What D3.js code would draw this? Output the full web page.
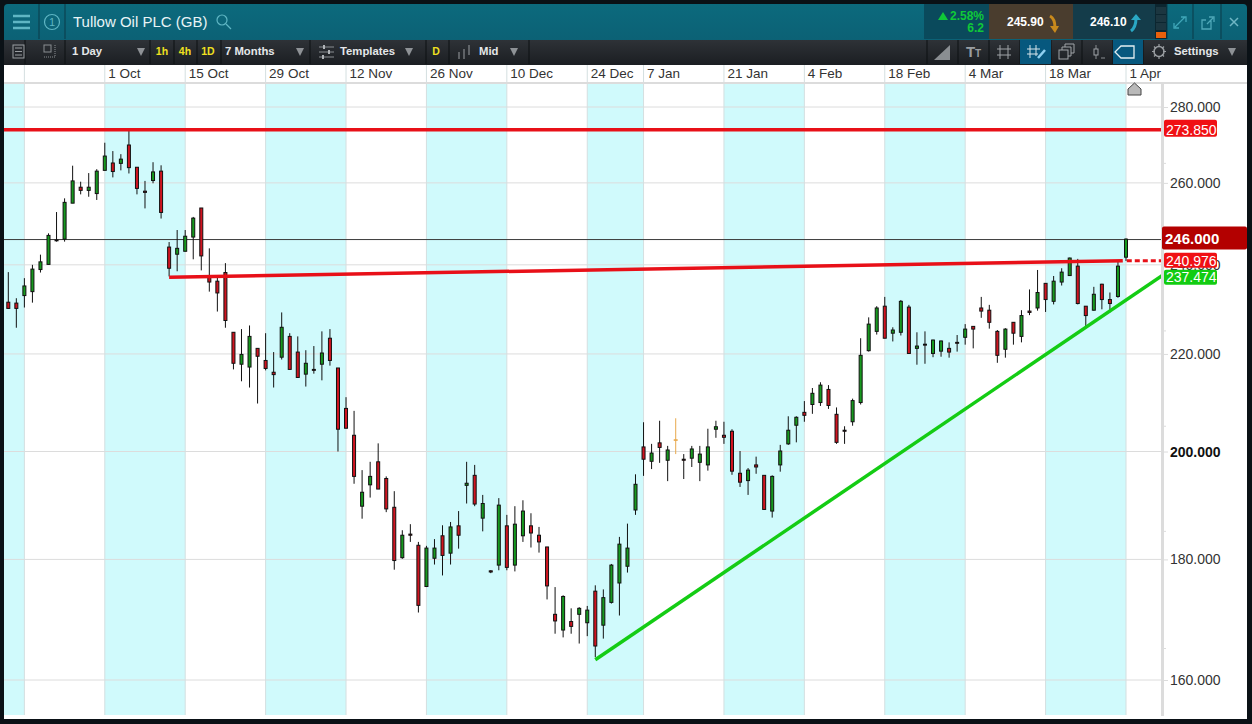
<!DOCTYPE html>
<html>
<head>
<meta charset="utf-8">
<title>Tullow Oil PLC (GB)</title>
<script src="https://d3js.org/d3.v7.min.js"></script>
<style>
  html, body { margin: 0; padding: 0; background: #0a1116; overflow: hidden; }
  svg { display: block; font-family: "Liberation Sans", Arial, sans-serif; }
</style>
</head>
<body>
<script>
// daily candles
var opens = [
  231.4,231.2,232.9,233.8,238.9,240.1,245.9,246.1,254.9,258.9,
  258.1,257.3,263.2,265.1,265.0,269.8,264.0,257.9,260.6,263.0,
  244.2,242.5,243.2,246.6,253.7,237.3,236.2,238.2,224.7,217.8,
  217.2,221.2,218.6,216.1,219.3,223.8,220.4,215.7,216.7,217.8,
  223.4,217.0,208.6,203.2,189.6,193.6,198.0,194.8,189.4,180.3,
  184.5,182.5,175.3,180.2,184.2,181.1,186.0,193.5,195.4,187.4,
  178.0,179.0,186.0,179.0,184.2,186.0,184.3,182.2,170.6,168.0,
  169.4,170.6,169.2,174.5,168.8,172.6,175.9,178.8,188.9,200.9,
  198.1,201.7,198.3,202.3,198.5,198.7,197.9,197.4,204.4,203.2,
  204.0,195.8,194.4,197.4,195.4,188.7,197.4,201.5,205.2,207.8,
  209.4,209.8,212.5,207.4,204.2,205.9,209.8,220.7,224.9,230.5,
  224.5,224.7,230.3,221.2,222.1,220.1,220.6,221.2,222.5,223.6,
  226.0,230.1,229.6,224.9,221.0,226.9,223.8,229.4,230.1,235.7,
  231.6,236.0,237.5,239.7,230.5,229.6,235.5,232.0,232.7,241.8
];
var highs = [
  238.3,232.3,236.9,240.0,242.4,247.5,252.7,256.1,264.4,260.3,
  262.5,263.5,270.4,268.2,267.4,273.8,264.0,260.5,265.3,264.5,
  245.4,248.3,248.3,251.5,253.7,243.9,237.1,240.4,224.7,225.4,
  226.2,221.2,224.5,220.4,229.1,224.5,223.8,220.8,221.7,224.9,
  225.4,217.0,210.9,208.1,196.4,198.0,201.6,195.2,192.4,185.2,
  186.3,183.1,182.4,183.6,186.1,186.7,188.7,198.0,197.4,191.7,
  178.1,191.1,188.0,189.6,190.7,188.3,185.8,182.2,175.2,173.8,
  171.6,171.8,172.0,175.5,174.8,179.2,184.0,186.4,195.6,205.8,
  201.5,206.1,201.1,206.6,199.5,201.1,201.1,204.5,206.1,205.9,
  204.4,200.1,196.8,199.0,195.4,195.4,201.3,207.0,207.0,210.1,
  212.8,214.0,213.4,208.8,205.0,210.6,223.4,228.0,230.5,232.6,
  225.8,231.9,230.8,224.7,224.9,223.1,222.9,222.5,224.1,226.5,
  226.0,232.6,230.8,225.2,225.6,226.9,229.6,234.3,238.8,235.7,
  237.4,239.2,241.7,241.4,230.5,234.9,235.6,233.6,240.7,246.3
];
var lows = [
  230.0,225.7,230.2,231.3,238.2,240.1,245.5,245.5,254.9,257.1,
  256.5,255.7,263.2,261.4,263.2,262.4,257.1,253.6,259.9,251.1,
  237.3,238.5,243.2,241.3,238.7,233.8,229.3,225.7,216.7,214.2,
  212.9,209.6,216.5,212.9,218.8,216.7,215.0,213.1,215.8,214.4,
  217.5,200.0,204.6,193.8,187.3,191.2,192.8,188.5,178.2,180.1,
  183.1,170.9,175.2,179.1,177.2,179.1,181.9,190.1,189.6,185.0,
  177.6,178.1,178.1,177.9,183.1,182.1,181.2,173.1,167.4,166.8,
  167.4,165.8,167.0,163.6,166.6,172.4,170.4,177.7,188.0,195.3,
  196.6,197.8,194.3,199.5,194.7,197.0,194.3,196.3,202.7,201.5,
  195.5,193.2,191.7,195.7,188.9,187.5,196.1,201.3,201.8,205.9,
  207.5,209.1,208.5,201.5,201.5,205.1,209.4,220.5,224.2,223.4,
  222.7,224.0,220.1,217.7,217.9,219.3,219.4,219.2,220.5,222.0,
  221.2,227.9,225.5,218.1,219.2,222.0,222.5,228.5,229.5,229.2,
  230.9,235.2,237.4,230.9,225.9,229.5,229.8,229.1,232.4,240.9
];
var closes = [
  230.0,230.0,235.1,239.0,240.7,247.0,245.7,255.1,260.5,258.1,
  258.9,263.0,266.9,262.9,266.1,263.9,258.6,257.6,262.8,252.6,
  239.2,243.9,246.8,251.2,242.1,236.0,233.5,227.3,218.0,219.9,
  223.8,219.5,216.9,215.6,225.8,216.7,215.0,218.0,216.5,220.2,
  218.6,204.4,204.6,195.2,192.2,195.2,192.8,189.1,179.8,184.3,
  184.3,172.1,182.0,182.0,180.7,185.8,184.3,193.9,190.0,190.1,
  177.8,189.8,178.6,186.3,188.7,184.7,183.1,175.4,169.5,173.6,
  168.6,171.6,171.3,165.4,173.4,179.0,182.7,182.0,193.7,198.5,
  199.7,200.8,200.3,202.2,198.3,200.5,199.5,200.9,204.9,202.8,
  196.2,194.1,196.4,197.0,189.0,195.2,200.1,204.2,206.8,207.2,
  211.7,213.4,209.2,201.8,204.0,210.2,219.7,226.5,230.1,223.4,
  225.2,231.6,220.1,221.7,221.9,223.0,222.8,220.4,222.3,225.4,
  225.4,229.4,226.9,219.7,225.4,224.5,228.4,229.1,233.6,232.0,
  236.2,238.3,241.6,231.1,228.4,233.2,232.0,231.1,239.7,246.1
];
var orangeBar = 83;

var dateIndex = [2, 12, 22, 32, 42, 52, 62, 72, 79, 89, 99, 109, 119, 129, 139];
var dateLabels = ["", "1 Oct", "15 Oct", "29 Oct", "12 Nov", "26 Nov", "10 Dec", "24 Dec",
  "7 Jan", "21 Jan", "4 Feb", "18 Feb", "4 Mar", "18 Mar", "1 Apr"];
var bandFrom = [-1, 12, 32, 52, 72, 89, 109, 129];
var bandTo = [2, 22, 42, 62, 79, 99, 119, 139];
var priceTicks = [280, 260, 240, 220, 200, 180, 160];
var minorTicks = [265, 245, 225, 205, 185, 165];

var resistance = 273.85;
var lastPrice = 246;
var redTrend = { from: 20, to: 138.6, fromValue: 237.1, toValue: 240.976 };
var greenTrend = { from: 73, fromValue: 163.2, axisValue: 237.474 };

var width = 1252, height = 724;
var left = 4, right = 1162, axisEnd = 1247, top_ = 84, bandBottom = 715, bottom = 719;

var svg = d3.select("body").append("svg").attr("width", width).attr("height", height);

var x = d3.scaleLinear().domain([0, 139]).range([8.3, 1126]);
var y = d3.scaleLog().domain([160, 280]).range([680, 107]);

// ---- window frame and header ----
var defs = svg.append("defs");
var headGrad = defs.append("linearGradient").attr("id", "head")
  .attr("x1", 0).attr("x2", 0).attr("y1", 0).attr("y2", 1);
headGrad.append("stop").attr("offset", "0%").attr("stop-color", "#0c6a7d");
headGrad.append("stop").attr("offset", "100%").attr("stop-color", "#0c6074");
var barGrad = defs.append("linearGradient").attr("id", "toolbar")
  .attr("x1", 0).attr("x2", 0).attr("y1", 0).attr("y2", 1);
barGrad.append("stop").attr("offset", "0%").attr("stop-color", "#2e3237");
barGrad.append("stop").attr("offset", "100%").attr("stop-color", "#1b1e22");
defs.append("clipPath").attr("id", "plot").append("rect")
  .attr("x", left).attr("y", 65).attr("width", right - left).attr("height", bandBottom - 65);

svg.append("rect").attr("width", width).attr("height", height).attr("fill", "#0a1116");
svg.append("rect").attr("x", left).attr("y", 4).attr("width", axisEnd - left).attr("height", 40)
  .attr("rx", 4).attr("fill", "url(#head)");

function sep(g, xs, y1, y2, col) {
  xs.forEach(function(v) {
    g.append("line").attr("x1", v).attr("x2", v).attr("y1", y1).attr("y2", y2)
      .attr("stroke", col).attr("stroke-width", 1);
  });
}
function label(g, px, py, txt, size, col, weight, anchor) {
  return g.append("text").attr("x", px).attr("y", py).text(txt)
    .attr("font-size", size).attr("fill", col)
    .attr("font-weight", weight || "normal").attr("text-anchor", anchor || "start");
}
function seg(g, d, col, w) {
  return g.append("path").attr("d", d).attr("fill", "none")
    .attr("stroke", col).attr("stroke-width", w || 1);
}

var head = svg.append("g");
head.append("rect").attr("x", 924).attr("y", 4).attr("width", 65).attr("height", 35).attr("fill", "#0a4a5c");
head.append("rect").attr("x", 989).attr("y", 4).attr("width", 84).attr("height", 35).attr("fill", "#4a3d2e");
head.append("rect").attr("x", 1073).attr("y", 4).attr("width", 82).attr("height", 35).attr("fill", "#143c4a");
head.append("rect").attr("x", 1155).attr("y", 4).attr("width", 12).attr("height", 35).attr("fill", "#0c2630");
sep(head, [39, 65, 1167, 1193, 1221], 4, 39, "#0a3a48");

seg(head, "M13 16H30M13 22H30M13 28H30", "#5fb6c4", 2.5);
head.append("circle").attr("cx", 52).attr("cy", 22).attr("r", 7.5).attr("fill", "none")
  .attr("stroke", "#5fb6c4").attr("stroke-width", 1.2);
label(head, 52, 26, "1", 11, "#5fb6c4", "normal", "middle");
label(head, 73, 27, "Tullow Oil PLC (GB)", 15, "#e8f4f6");
head.append("circle").attr("cx", 222).attr("cy", 20).attr("r", 5).attr("fill", "none")
  .attr("stroke", "#5fb6c4").attr("stroke-width", 1.2);
seg(head, "M226 24L231 29", "#5fb6c4", 1.2);

head.append("path").attr("d", "M938 20L943 12L948 20Z").attr("fill", "#10c838");
label(head, 984, 20, "2.58%", 12, "#10c838", "bold", "end");
label(head, 984, 32, "6.2", 12, "#10c838", "bold", "end");
label(head, 1007, 26, "245.90", 12, "#ffffff", "bold");
seg(head, "M1050 16C1054 18 1055 22 1055 28", "#c98a1c", 3);
head.append("path").attr("d", "M1050 26L1055 33L1059 26Z").attr("fill", "#c98a1c");
label(head, 1090, 26, "246.10", 12, "#ffffff", "bold");
seg(head, "M1131 31C1135 28 1136 24 1136 18", "#2aa8c4", 3);
head.append("path").attr("d", "M1131 20L1136 14L1141 20Z").attr("fill", "#2aa8c4");
[7, 15, 23].forEach(function(v) {
  head.append("rect").attr("x", 1156).attr("y", v).attr("width", 10).attr("height", 7).attr("fill", "#1c3640");
});
head.append("rect").attr("x", 1156).attr("y", 32).attr("width", 10).attr("height", 6).attr("fill", "#e8600c");
seg(head, "M1175 27L1185 17M1181 17H1186V22M1174 23V28H1179", "#3fa6b8", 1.3);
seg(head, "M1211 20V29H1202V20H1206M1207 24L1213 18M1209 17H1214V22", "#4fa8b8", 1.3);
seg(head, "M1230 18L1238 26M1238 18L1230 26", "#6fb6c4", 1.5);

// ---- toolbar ----
var bar = svg.append("g");
bar.append("rect").attr("x", left).attr("y", 40).attr("width", axisEnd - left).attr("height", 25).attr("fill", "url(#toolbar)");
sep(bar, [25, 65, 150, 174, 197, 221, 310, 426, 449, 529, 927, 958, 989, 1020, 1051, 1082, 1113, 1143], 40, 64, "#0d1013");
bar.append("rect").attr("x", 1020).attr("y", 40).attr("width", 31).attr("height", 24).attr("fill", "#07587e");
bar.append("rect").attr("x", 1113).attr("y", 40).attr("width", 30).attr("height", 24).attr("fill", "#07587e");

bar.append("rect").attr("x", 13).attr("y", 45).attr("width", 11).attr("height", 13).attr("fill", "none").attr("stroke", "#9a9ea2");
seg(bar, "M15 48H22M15 51.5H22M15 55H22", "#9a9ea2");
bar.append("rect").attr("x", 44).attr("y", 45).attr("width", 7).attr("height", 7).attr("fill", "none").attr("stroke", "#8a8e92");
bar.append("path").attr("d", "M44 57H56M55 45V57").attr("fill", "none").attr("stroke", "#8a8e92").attr("stroke-dasharray", "1 1");

label(bar, 72, 55, "1 Day", 11.3, "#e4e7e9", "bold");
label(bar, 162, 55, "1h", 10.5, "#f0e020", "bold", "middle");
label(bar, 185, 55, "4h", 10.5, "#f0e020", "bold", "middle");
label(bar, 208, 55, "1D", 10.5, "#f0e020", "bold", "middle");
label(bar, 225, 55, "7 Months", 11.3, "#e4e7e9", "bold");
label(bar, 340, 55, "Templates", 11.3, "#e4e7e9", "bold");
label(bar, 436, 55, "D", 10.5, "#f0e020", "bold", "middle");
label(bar, 479, 55, "Mid", 11.3, "#e4e7e9", "bold");
label(bar, 1174, 55, "Settings", 11.3, "#e4e7e9", "bold");
[141, 300, 409, 514, 1232].forEach(function(v) {
  bar.append("path").attr("d", "M" + (v - 4) + " 48H" + (v + 4) + "L" + v + " 56Z").attr("fill", "#8e9296");
});
seg(bar, "M319 47H334M319 52H334M319 57H334", "#8a8e92");
seg(bar, "M324 45V49M329 50V54M323 55V59", "#b0b4b8", 2);
seg(bar, "M459 52V59M464 49V59M469 45V55", "#9a9ea2");

bar.append("path").attr("d", "M934 60L950 45V60Z").attr("fill", "#8a8e92");
label(bar, 966, 57, "T", 15, "#9a9ea2", "bold");
label(bar, 975, 57, "T", 10, "#9a9ea2", "bold");
seg(bar, "M1000 45V59M1008 45V59M997 49H1011M997 55H1011", "#a0a4a8");
seg(bar, "M1030 45V58M1036 45V56M1027 49H1040M1027 54H1038", "#d8e4ea");
seg(bar, "M1038 58L1045 50", "#8fd0f0", 2.5);
bar.append("rect").attr("x", 1059).attr("y", 50).attr("width", 9).attr("height", 9).attr("fill", "none").attr("stroke", "#a0a4a8");
seg(bar, "M1062 50V47H1071V56H1068M1065 47V44H1074V53H1071", "#a0a4a8");
seg(bar, "M1096 45V59M1101 58H1105", "#8a8e92");
bar.append("rect").attr("x", 1094).attr("y", 49).attr("width", 4).attr("height", 6).attr("fill", "#23272c").attr("stroke", "#a0a4a8");
bar.append("path").attr("d", "M1134 46H1121L1115 52L1121 58H1134Z").attr("fill", "none").attr("stroke", "#e4eef2").attr("stroke-width", 1.3);
bar.append("circle").attr("cx", 1159).attr("cy", 51.5).attr("r", 5).attr("fill", "none").attr("stroke", "#9a9ea2").attr("stroke-width", 1.5);
seg(bar, "M1159 44V47M1159 56V59M1152 51.5H1155M1163 51.5H1166M1154 46.5L1156 48.5M1162 54.5L1164 56.5M1154 56.5L1156 54.5M1162 48.5L1164 46.5", "#9a9ea2", 1.2);

// ---- chart area ----
svg.append("rect").attr("x", left).attr("y", 65).attr("width", axisEnd - left).attr("height", bottom - 65).attr("fill", "#ffffff");

var plot = svg.append("g").attr("clip-path", "url(#plot)");

plot.selectAll("rect.band")
  .data(d3.range(bandFrom.length))
  .enter().append("rect").attr("class", "band")
  .attr("x", function(i) { return x(bandFrom[i]); })
  .attr("y", top_)
  .attr("width", function(i) { return x(bandTo[i]) - x(bandFrom[i]); })
  .attr("height", bandBottom - top_)
  .attr("fill", "#d0fafc");

plot.selectAll("line.hgrid")
  .data(priceTicks)
  .enter().append("line").attr("class", "hgrid")
  .attr("x1", left).attr("x2", right)
  .attr("y1", function(d) { return y(d); })
  .attr("y2", function(d) { return y(d); })
  .attr("stroke", "#dcdcdc");

plot.selectAll("line.vgrid")
  .data(dateIndex)
  .enter().append("line").attr("class", "vgrid")
  .attr("x1", function(d) { return x(d); })
  .attr("x2", function(d) { return x(d); })
  .attr("y1", 65).attr("y2", bandBottom)
  .attr("stroke", "#d4dfe0");

// date strip
svg.append("rect").attr("x", left).attr("y", 82).attr("width", axisEnd - left).attr("height", 2).attr("fill", "#dcdcdc");
var xAxis = d3.axisBottom(x).tickValues(dateIndex)
  .tickSize(0).tickPadding(0)
  .tickFormat(function(d, i) { return dateLabels[i]; });
var xg = svg.append("g").attr("transform", "translate(0,65)").call(xAxis);
xg.select(".domain").remove();
xg.selectAll("text")
  .attr("text-anchor", "start").attr("x", 3).attr("y", 3)
  .attr("font-size", 13.5).attr("font-family", "Liberation Sans, Arial, sans-serif").attr("fill", "#333");

// last price line sits under the candles
plot.append("line").attr("x1", left).attr("x2", right)
  .attr("y1", y(lastPrice)).attr("y2", y(lastPrice))
  .attr("stroke", "#3a3a3a");

// candles
var candles = plot.selectAll("g.candle")
  .data(d3.range(opens.length))
  .enter().append("g").attr("class", "candle");
candles.append("line")
  .attr("x1", function(i) { return x(i); })
  .attr("x2", function(i) { return x(i); })
  .attr("y1", function(i) { return y(highs[i]); })
  .attr("y2", function(i) { return y(lows[i]); })
  .attr("stroke", function(i) { return i === orangeBar ? "#e8a94c" : "#111"; });
candles.append("rect")
  .attr("x", function(i) { return x(i) - 1.5; })
  .attr("width", 3)
  .attr("y", function(i) { return y(Math.max(opens[i], closes[i])); })
  .attr("height", function(i) { return Math.abs(y(opens[i]) - y(closes[i])); })
  .attr("fill", function(i) {
    if (i === orangeBar) return "#e8a94c";
    return closes[i] >= opens[i] ? "#16991e" : "#d01420";
  })
  .attr("stroke", function(i) { return i === orangeBar ? "#e8a94c" : "#111"; });

// drawn lines
plot.append("line").attr("x1", left).attr("x2", right)
  .attr("y1", y(resistance)).attr("y2", y(resistance))
  .attr("stroke", "#e81018").attr("stroke-width", 3.5);
plot.append("line")
  .attr("x1", x(redTrend.from)).attr("y1", y(redTrend.fromValue))
  .attr("x2", x(redTrend.to)).attr("y2", y(redTrend.toValue))
  .attr("stroke", "#e81018").attr("stroke-width", 3.5);
plot.append("line")
  .attr("x1", x(redTrend.to) + 4).attr("y1", y(redTrend.toValue))
  .attr("x2", right).attr("y2", y(redTrend.toValue))
  .attr("stroke", "#e81018").attr("stroke-width", 3).attr("stroke-dasharray", "5 3");
plot.append("line")
  .attr("x1", x(greenTrend.from)).attr("y1", y(greenTrend.fromValue))
  .attr("x2", right).attr("y2", y(greenTrend.axisValue))
  .attr("stroke", "#14cc14").attr("stroke-width", 3.5);

// home marker above 1 Apr
svg.append("path").attr("d", "M1128 95V89L1134.5 83L1141 89V95Z")
  .attr("fill", "#b9b9b9").attr("stroke", "#444").attr("stroke-width", 1);

// price axis
var yAxis = d3.axisRight(y).tickValues(priceTicks).tickSize(6).tickPadding(2)
  .tickFormat(d3.format(".3f"));
var yg = svg.append("g").attr("transform", "translate(" + right + ",0)").call(yAxis);
yg.select(".domain").remove();
yg.selectAll("line").attr("stroke", "#dcdcdc");
yg.selectAll("text").attr("font-size", 14).attr("font-family", "Liberation Sans, Arial, sans-serif").attr("fill", "#333")
  .attr("font-weight", function(d) { return d === 200 ? "bold" : "normal"; })
  .attr("fill", function(d) { return d === 200 ? "#111" : "#333"; });
svg.selectAll("line.minor")
  .data(minorTicks)
  .enter().append("line").attr("class", "minor")
  .attr("x1", right).attr("x2", right + 4)
  .attr("y1", function(d) { return y(d); })
  .attr("y2", function(d) { return y(d); })
  .attr("stroke", "#dcdcdc");
svg.append("rect").attr("x", right - 1).attr("y", 84).attr("width", 3).attr("height", 716 - 84).attr("fill", "#dcdcdc");

// price tags
var tagValues = [resistance, redTrend.toValue, greenTrend.axisValue];
var tagColours = ["#f01014", "#f01014", "#12cc12"];
var tagRise = [10, 8, 6];
var tagDrop = [5, 5, 6];
svg.selectAll("rect.tag")
  .data(d3.range(tagValues.length))
  .enter().append("rect").attr("class", "tag")
  .attr("x", 1164).attr("width", 53).attr("rx", 2)
  .attr("y", function(i) { return y(tagValues[i]) - tagRise[i]; })
  .attr("height", function(i) { return i === 0 ? 17 : 15; })
  .attr("fill", function(i) { return tagColours[i]; });
svg.selectAll("text.tag")
  .data(d3.range(tagValues.length))
  .enter().append("text").attr("class", "tag")
  .attr("x", 1166)
  .attr("y", function(i) { return y(tagValues[i]) + tagDrop[i]; })
  .attr("font-size", 14).attr("fill", "#fff")
  .text(function(i) { return d3.format(".3f")(tagValues[i]); });
svg.append("rect").attr("x", 1162).attr("y", y(lastPrice) - 13).attr("width", 85).attr("height", 23)
  .attr("rx", 2).attr("fill", "#b30000");
svg.append("text").attr("x", 1165).attr("y", y(lastPrice) + 4)
  .attr("font-size", 15).attr("font-weight", "bold").attr("fill", "#fff")
  .text(d3.format(".3f")(lastPrice));
</script>
</body>
</html>
